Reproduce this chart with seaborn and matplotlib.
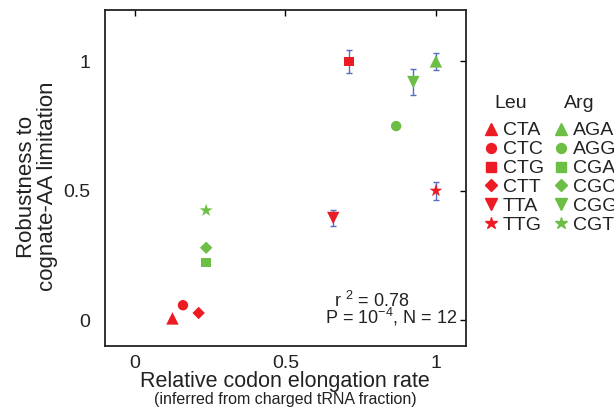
import numpy as np
import pandas as pd
import matplotlib
matplotlib.use("Agg")
import matplotlib.pyplot as plt
from matplotlib.lines import Line2D
import seaborn as sns

# ------------------------------------------
# Daten
# ------------------------------------------
shapes = ["up", "circle", "square", "diamond", "down", "star"]

leu_codons = ["CTA", "CTC", "CTG", "CTT", "TTA", "TTG"]
leu_rate = [0.125, 0.16, 0.711, 0.212, 0.659, 1.0]
leu_robust = [0.007, 0.058, 1.0, 0.028, 0.395, 0.50]
leu_err = [np.nan, np.nan, 0.045, np.nan, 0.032, 0.035]

arg_codons = ["AGA", "AGG", "CGA", "CGC", "CGG", "CGT"]
arg_rate = [1.0, 0.868, 0.237, 0.237, 0.925, 0.237]
arg_robust = [1.0, 0.75, 0.223, 0.28, 0.92, 0.424]
arg_err = [0.034, np.nan, np.nan, np.nan, 0.051, np.nan]

stats_r2 = "0.78"
stats_p = "-4"
stats_n = 12

df = pd.DataFrame({
    "codon": leu_codons + arg_codons,
    "aa": ["Leu"] * 6 + ["Arg"] * 6,
    "shape": shapes * 2,
    "rate": leu_rate + arg_rate,
    "robust": leu_robust + arg_robust,
    "err": leu_err + arg_err,
})

# ------------------------------------------
# Stil
# ------------------------------------------
sns.set_theme(style="white")
plt.rcParams["font.family"] = ["Liberation Sans", "DejaVu Sans"]
plt.rcParams["mathtext.fontset"] = "custom"
plt.rcParams["mathtext.rm"] = "Liberation Sans"
plt.rcParams["mathtext.it"] = "Liberation Sans:italic"
plt.rcParams["mathtext.default"] = "rm"

txt_color = "#222222"
palette = {"Leu": "#ED1C24", "Arg": "#6CBE45"}
err_color = "#5470BE"
marker_map = {"up": "^", "circle": "o", "square": "s", "diamond": "D", "down": "v", "star": "*"}
size_map = {"up": 80, "circle": 56, "square": 48, "diamond": 40, "down": 80, "star": 95}

fig = plt.figure(figsize=(6.14, 4.17), dpi=100)
ax = fig.add_axes([0.1705, 0.170, 0.5885, 0.807])

# Fehlerbalken zuerst (hinter den Markern)
has_err = df["err"].notna()
ax.errorbar(df.loc[has_err, "rate"], df.loc[has_err, "robust"], yerr=df.loc[has_err, "err"],
            fmt="none", ecolor=err_color, elinewidth=1.0, capsize=2, capthick=1.0, zorder=1)

sns.scatterplot(data=df, x="rate", y="robust", hue="aa", style="shape", size="shape",
                palette=palette, markers=marker_map, sizes=size_map,
                linewidth=0, legend=False, ax=ax, zorder=2)

ax.set_xlim(-0.1, 1.1)
ax.set_ylim(-0.1, 1.2)
ax.set_xticks([0, 0.5, 1])
ax.set_xticklabels(["0", "0.5", "1"])
ax.set_yticks([0, 0.5, 1])
ax.set_yticklabels(["0", "0.5", "1"])
ax.tick_params(direction="in", length=4, width=1, top=True, right=True,
               labelsize=14, colors="black", labelcolor=txt_color)
ax.tick_params(axis="x", pad=6.5)
ax.tick_params(axis="y", pad=10.5)
for sp in ax.spines.values():
    sp.set_visible(True)
    sp.set_color(txt_color)
    sp.set_linewidth(1.3)

ax.set_xlabel("Relative codon elongation rate", fontsize=15.5, color=txt_color)
ax.xaxis.set_label_coords(0.5, -0.074)
ax.xaxis.label.set_va("top")
ax.text(0.5, -0.135, "(inferred from charged tRNA fraction)", transform=ax.transAxes,
        ha="center", va="top", fontsize=11.5, color=txt_color)

ax.set_ylabel("Robustness to\ncognate-AA limitation", fontsize=16, color=txt_color,
              linespacing=1.0)
ax.yaxis.set_label_coords(-0.128, 0.474)

# Statistik
ax.text(0.66, 0.051, f"r $^{{2}}$ = {stats_r2}", ha="left", va="baseline",
        fontsize=13, color=txt_color)
ax.text(0.63, -0.013, f"P = 10$^{{{stats_p}}}$, N = {stats_n}", ha="left", va="baseline",
        fontsize=13, color=txt_color)

# Legende: zwei Spalten (Leu, Arg)
handles, labels = [], []
for aa, codons in (("Leu", leu_codons), ("Arg", arg_codons)):
    for cod, shp in zip(codons, shapes):
        handles.append(Line2D([], [], linestyle="none", marker=marker_map[shp],
                              color=palette[aa], markersize=np.sqrt(size_map[shp]) * 0.95))
        labels.append(cod)

leg = fig.legend(handles, labels, ncol=2, loc="upper left", bbox_to_anchor=(0.7866, 0.708),
                 frameon=False, fontsize=14, borderpad=0, borderaxespad=0, handlelength=0.8,
                 handletextpad=0.23, columnspacing=0.46, labelspacing=0.07,
                 labelcolor=txt_color)

# Spaltenüberschriften über der Legende
fig.canvas.draw()
renderer = fig.canvas.get_renderer()
inv = fig.transFigure.inverted()
leg_texts = leg.get_texts()
for head, first in (("Leu", leg_texts[0]), ("Arg", leg_texts[6])):
    bb = first.get_window_extent(renderer)
    hx, hy = inv.transform((bb.x0 - 9, bb.y0 + 27))
    fig.text(hx, hy, head, ha="left", va="bottom", fontsize=14, color=txt_color)

fig.savefig("out.png", dpi=100)
